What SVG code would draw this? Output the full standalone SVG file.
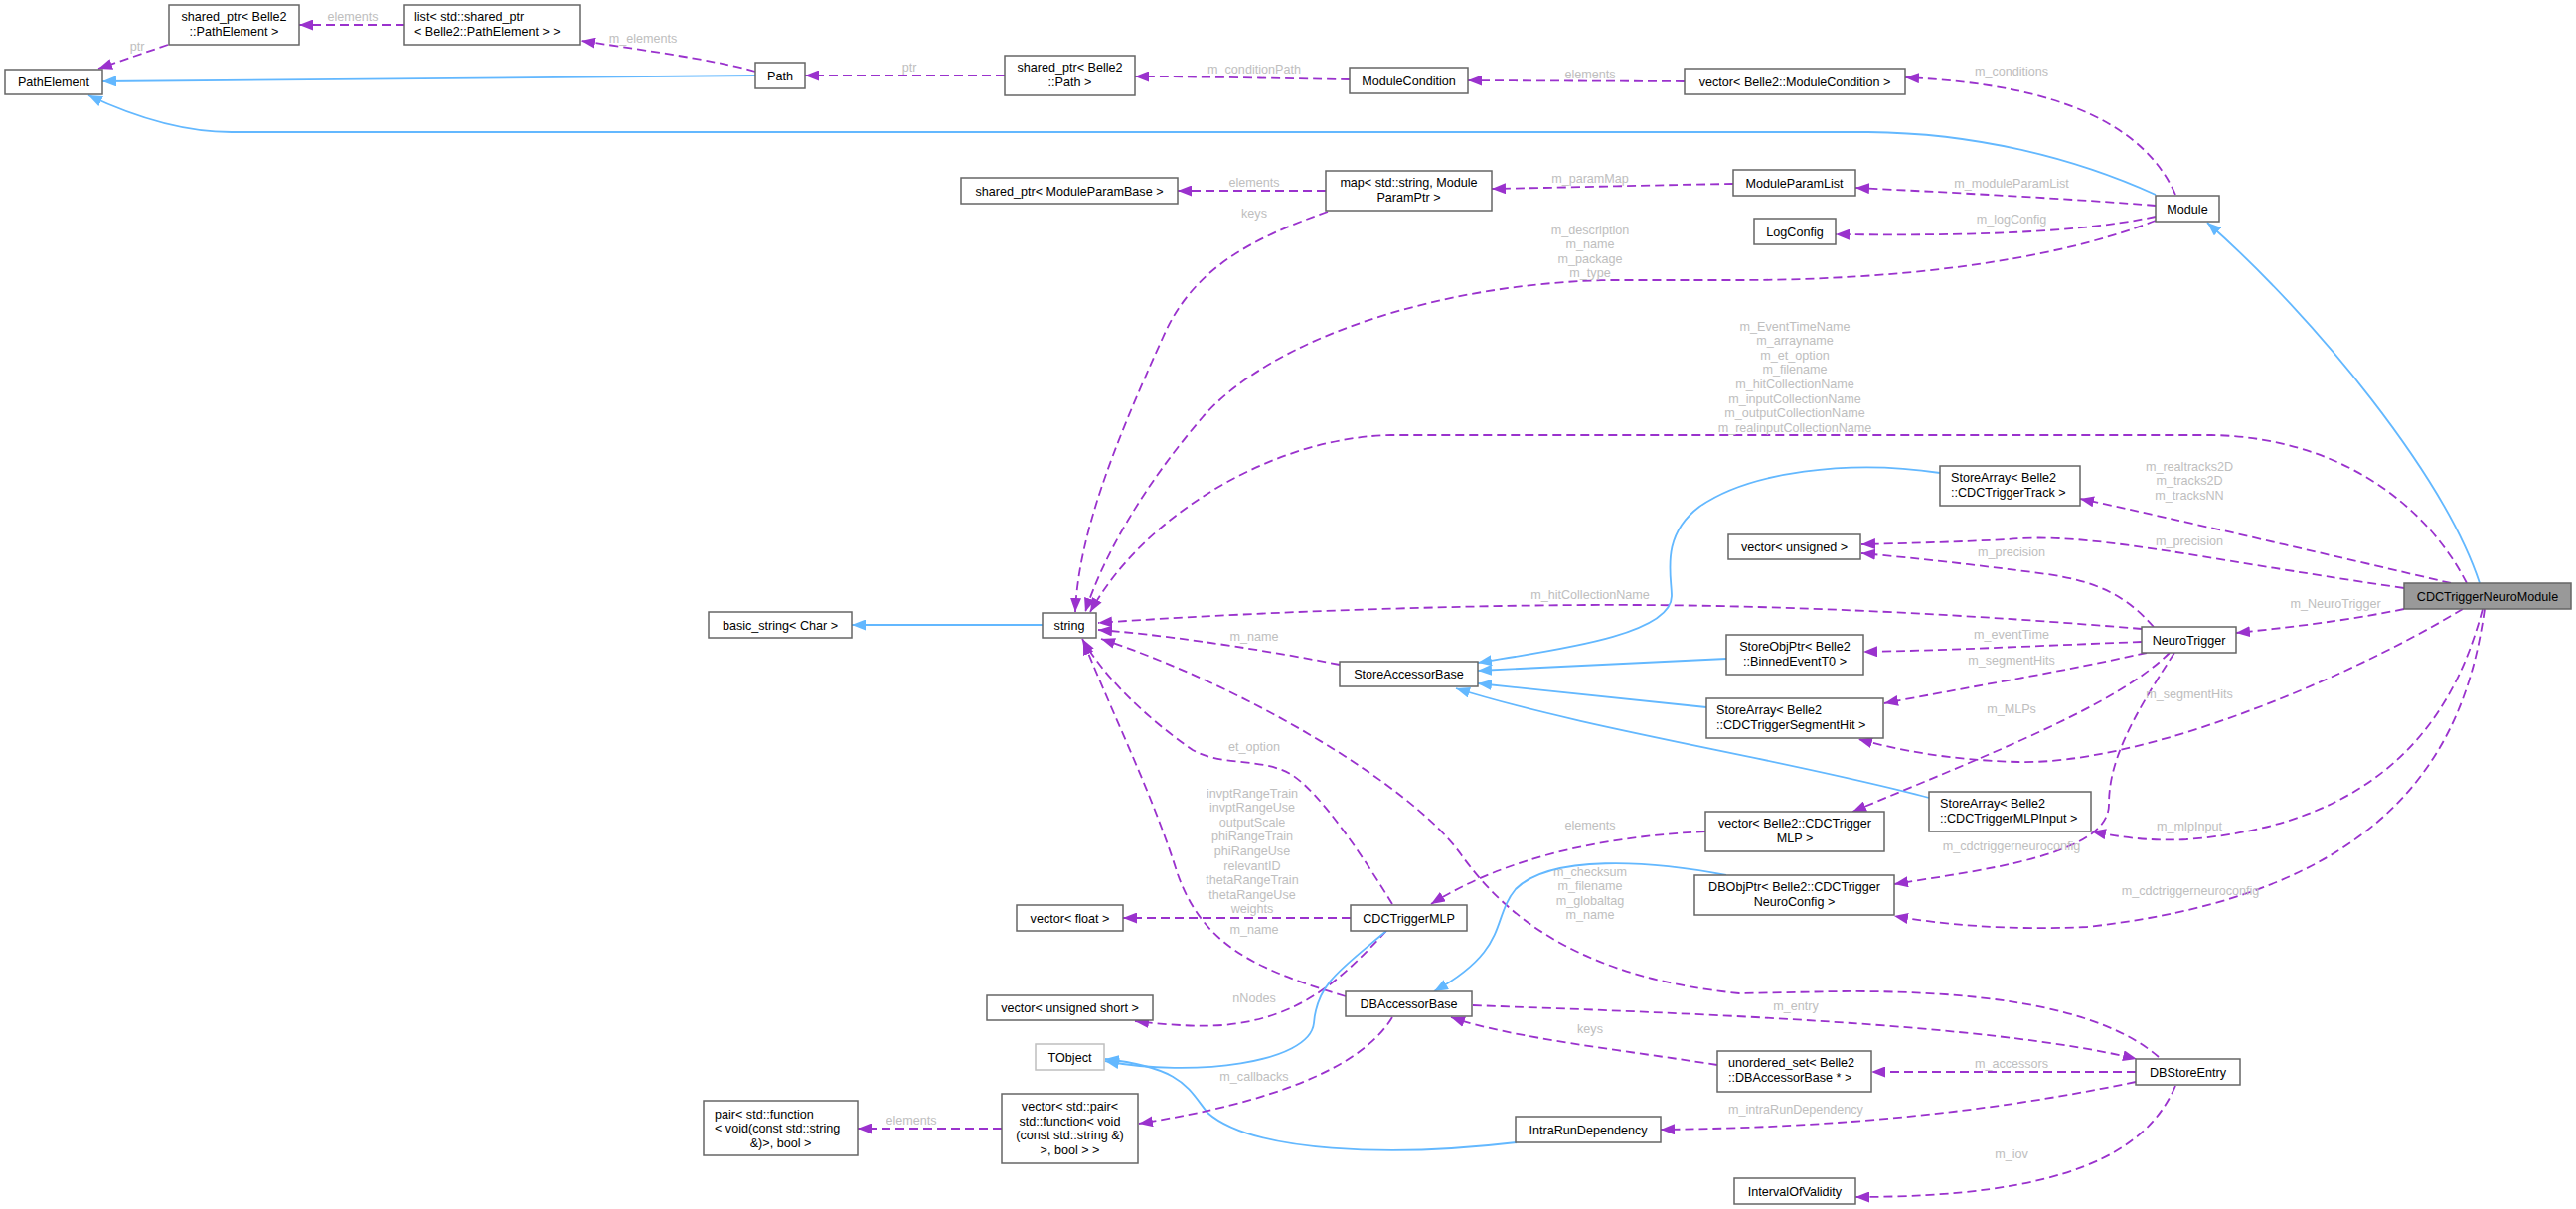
<svg xmlns="http://www.w3.org/2000/svg" width="2592" height="1217" viewBox="0 0 2592 1217">
<defs>
<marker id="ap" viewBox="0 0 14 11" refX="14" refY="5.5" markerWidth="14" markerHeight="11" markerUnits="userSpaceOnUse" orient="auto"><path d="M0,0 L14,5.5 L0,11 z" fill="#9a32cd"/></marker>
<marker id="ab" viewBox="0 0 14 11" refX="14" refY="5.5" markerWidth="14" markerHeight="11" markerUnits="userSpaceOnUse" orient="auto"><path d="M0,0 L14,5.5 L0,11 z" fill="#63b8ff"/></marker>
<style>
.n rect{fill:#fff;stroke:#666;stroke-width:1.5}
.n text{font-family:"Liberation Sans",Arial,sans-serif;font-size:12.6px;fill:#000}
.n .c{text-anchor:middle}
.main rect{fill:#999}
.ext rect{stroke:#bfbfbf}
.d{fill:none;stroke:#9a32cd;stroke-width:1.8;stroke-dasharray:9,5;marker-end:url(#ap)}
.b{fill:none;stroke:#63b8ff;stroke-width:1.8;marker-end:url(#ab)}
.l{font-family:"Liberation Sans",Arial,sans-serif;font-size:12.6px;fill:#bebebe;text-anchor:middle}
</style>
</defs>
<rect width="2592" height="1217" fill="#fff"/>
<g id="edges">
<path class="d" d="M169,45 L99,69"/><text class="l" x="138" y="51">ptr</text>
<path class="d" d="M407,25 L301,25"/><text class="l" x="355" y="21">elements</text>
<path class="d" d="M760,72 C720,60 630,48 585,41"/><text class="l" x="647" y="43">m_elements</text>
<path class="b" d="M760,76 L103,82"/>
<path class="d" d="M1011,76 L810,76"/><text class="l" x="915" y="72">ptr</text>
<path class="d" d="M1358,80 C1290,79 1200,77 1142,77"/><text class="l" x="1262" y="74">m_conditionPath</text>
<path class="d" d="M1695,82 L1477,81"/><text class="l" x="1600" y="79">elements</text>
<path class="d" d="M2189,196 C2160,130 2080,85 1917,78"/><text class="l" x="2024" y="76">m_conditions</text>
<path class="b" d="M2169,196 C2090,160 1990,134 1880,133 L233,133 C190,133 140,120 89,96"/>
<path class="d" d="M1334,192 L1185,192"/><text class="l" x="1262" y="188">elements</text>
<path class="d" d="M1744,185 C1680,186 1560,189 1501,190"/><text class="l" x="1600" y="184">m_paramMap</text>
<path class="d" d="M2169,207 C2100,201 1950,193 1867,189"/><text class="l" x="2024" y="189">m_moduleParamList</text>
<path class="d" d="M2169,218 C2080,237 1950,237 1847,236"/><text class="l" x="2024" y="225">m_logConfig</text>
<path class="d" d="M2169,222 C2060,265 1900,282 1750,282 L1620,282 C1450,285 1280,340 1210,420 C1150,490 1110,560 1092,616"/>
<text class="l" x="1600" y="235.5">m_description<tspan x="1600" dy="14.6">m_name</tspan><tspan x="1600" dy="14.6">m_package</tspan><tspan x="1600" dy="14.6">m_type</tspan></text>
<path class="d" d="M1336,213 C1260,240 1200,270 1170,340 C1120,450 1085,540 1082,616"/><text class="l" x="1262" y="219">keys</text>
<path class="b" d="M1049,629 L857,629"/>
<path class="b" d="M2495,587 C2460,480 2330,320 2221,224"/>
<path class="d" d="M2482,587 C2440,505 2350,440 2225,438 L1400,438 C1280,440 1150,520 1097,616"/>
<text class="l" x="1806" y="332.5">m_EventTimeName<tspan x="1806" dy="14.6">m_arrayname</tspan><tspan x="1806" dy="14.6">m_et_option</tspan><tspan x="1806" dy="14.6">m_filename</tspan><tspan x="1806" dy="14.6">m_hitCollectionName</tspan><tspan x="1806" dy="14.6">m_inputCollectionName</tspan><tspan x="1806" dy="14.6">m_outputCollectionName</tspan><tspan x="1806" dy="14.6">m_realinputCollectionName</tspan></text>
<path class="d" d="M2466,587 C2350,560 2200,525 2093,502"/>
<text class="l" x="2203" y="473.5">m_realtracks2D<tspan x="2203" dy="14.6">m_tracks2D</tspan><tspan x="2203" dy="14.6">m_tracksNN</tspan></text>
<path class="d" d="M2419,592 C2200,560 2100,535 2020,543 C1960,546 1910,547 1873,548"/><text class="l" x="2203" y="549">m_precision</text>
<path class="d" d="M2167,631 C2140,600 2110,585 2060,578 C2000,570 1930,562 1873,557"/><text class="l" x="2024" y="560">m_precision</text>
<path class="d" d="M2419,613 C2360,625 2300,632 2250,637"/><text class="l" x="2350" y="612">m_NeuroTrigger</text>
<path class="d" d="M2155,633 C2000,620 1800,608 1600,609 C1400,610 1200,620 1105,627"/><text class="l" x="1600" y="603">m_hitCollectionName</text>
<path class="d" d="M2155,646 C2050,650 1950,655 1875,656"/><text class="l" x="2024" y="643">m_eventTime</text>
<path class="d" d="M2160,657 C2080,675 1980,692 1896,708"/><text class="l" x="2024" y="669">m_segmentHits</text>
<path class="d" d="M2183,657 C2130,710 2000,760 1864,817"/><text class="l" x="2024" y="718">m_MLPs</text>
<path class="d" d="M2188,657 C2140,730 2122,770 2122,810 C2122,860 2000,875 1906,890"/><text class="l" x="2024" y="856">m_cdctriggerneuroconfig</text>
<path class="d" d="M2478,613 C2350,690 2150,770 2031,767 C1960,765 1910,755 1870,744"/><text class="l" x="2203" y="703">m_segmentHits</text>
<path class="d" d="M2498,613 C2470,720 2400,830 2200,845 C2160,847 2130,842 2105,837"/><text class="l" x="2203" y="836">m_mlpInput</text>
<path class="d" d="M2500,613 C2480,760 2400,900 2100,933 C2020,937 1950,930 1906,922"/><text class="l" x="2204" y="901">m_cdctriggerneuroconfig</text>
<path class="b" d="M1952,476 C1860,462 1760,475 1710,510 C1670,540 1682,580 1682,600 C1682,640 1560,655 1487,667"/>
<path class="b" d="M1737,663 L1487,675"/>
<path class="b" d="M1717,712 L1487,688"/>
<path class="b" d="M1941,803 C1800,765 1600,735 1465,693"/>
<path class="d" d="M1348,669 C1250,650 1160,638 1105,634"/><text class="l" x="1262" y="645">m_name</text>
<path class="d" d="M1401,910 C1370,860 1330,800 1300,780 C1270,762 1230,772 1200,755 C1150,720 1110,680 1089,643"/><text class="l" x="1262" y="756">et_option</text>
<path class="d" d="M1359,924 L1130,924"/>
<text class="l" x="1260" y="802.5">invptRangeTrain<tspan x="1260" dy="14.6">invptRangeUse</tspan><tspan x="1260" dy="14.6">outputScale</tspan><tspan x="1260" dy="14.6">phiRangeTrain</tspan><tspan x="1260" dy="14.6">phiRangeUse</tspan><tspan x="1260" dy="14.6">relevantID</tspan><tspan x="1260" dy="14.6">thetaRangeTrain</tspan><tspan x="1260" dy="14.6">thetaRangeUse</tspan><tspan x="1260" dy="14.6">weights</tspan></text>
<path class="d" d="M1354,1003 C1260,975 1210,950 1185,880 C1160,800 1120,720 1090,645"/><text class="l" x="1262" y="940">m_name</text>
<path class="d" d="M2172,1064 C2110,1010 1980,997 1850,998 L1750,1000 C1600,985 1520,930 1470,860 C1420,790 1250,690 1108,643"/>
<text class="l" x="1600" y="881.5">m_checksum<tspan x="1600" dy="14.6">m_filename</tspan><tspan x="1600" dy="14.6">m_globaltag</tspan><tspan x="1600" dy="14.6">m_name</tspan></text>
<path class="d" d="M1716,837 C1620,842 1520,860 1440,910"/><text class="l" x="1600" y="835">elements</text>
<path class="b" d="M1737,881 C1660,866 1560,860 1525,895 C1500,925 1520,955 1443,998"/>
<path class="d" d="M1395,937 C1350,985 1310,1025 1230,1032 C1200,1034 1170,1031 1142,1028"/><text class="l" x="1262" y="1009">nNodes</text>
<path class="b" d="M1395,937 C1350,975 1325,990 1322,1030 C1318,1070 1200,1085 1112,1068"/>
<path class="b" d="M1526,1150 C1400,1165 1260,1160 1215,1120 C1195,1095 1190,1075 1112,1066"/>
<path class="d" d="M1401,1024 C1370,1075 1280,1110 1146,1131"/><text class="l" x="1262" y="1088">m_callbacks</text>
<path class="d" d="M1008,1136 L863,1136"/><text class="l" x="917" y="1132">elements</text>
<path class="d" d="M1482,1012 C1700,1020 2000,1030 2150,1066"/><text class="l" x="1807" y="1017">m_entry</text>
<path class="d" d="M1728,1072 C1640,1058 1520,1045 1460,1024"/><text class="l" x="1600" y="1040">keys</text>
<path class="d" d="M2149,1079 L1883,1079"/><text class="l" x="2024" y="1075">m_accessors</text>
<path class="d" d="M2149,1089 C2000,1120 1850,1135 1671,1137"/><text class="l" x="1807" y="1121">m_intraRunDependency</text>
<path class="d" d="M2189,1093 C2160,1160 2080,1205 1867,1205"/><text class="l" x="2024" y="1166">m_iov</text>
</g>
<g id="node-PathElement" class="n"><rect x="5" y="70" width="98" height="25"/><text class="c" x="54" y="87">PathElement</text></g>
<g id="node-shared_ptr_PathElement" class="n"><rect x="170" y="5" width="131" height="40"/><text class="c" x="235.5" y="21">shared_ptr&lt; Belle2</text><text class="c" x="235.5" y="36">::PathElement &gt;</text></g>
<g id="node-list_shared_ptr" class="n"><rect x="407" y="5" width="177" height="40"/><text x="417" y="21">list&lt; std::shared_ptr</text><text x="417" y="36">&lt; Belle2::PathElement &gt; &gt;</text></g>
<g id="node-Path" class="n"><rect x="760" y="63" width="50" height="26"/><text class="c" x="785" y="80.5">Path</text></g>
<g id="node-shared_ptr_Path" class="n"><rect x="1011" y="56" width="131" height="40"/><text class="c" x="1076.5" y="72">shared_ptr&lt; Belle2</text><text class="c" x="1076.5" y="87">::Path &gt;</text></g>
<g id="node-ModuleCondition" class="n"><rect x="1358" y="68" width="119" height="26"/><text class="c" x="1417.5" y="85.5">ModuleCondition</text></g>
<g id="node-vector_ModuleCondition" class="n"><rect x="1695" y="69" width="222" height="26"/><text class="c" x="1806" y="86.5">vector&lt; Belle2::ModuleCondition &gt;</text></g>
<g id="node-shared_ptr_ModuleParamBase" class="n"><rect x="967" y="179" width="218" height="26"/><text class="c" x="1076" y="196.5">shared_ptr&lt; ModuleParamBase &gt;</text></g>
<g id="node-map" class="n"><rect x="1334" y="172" width="167" height="40"/><text class="c" x="1417.5" y="188">map&lt; std::string, Module</text><text class="c" x="1417.5" y="203">ParamPtr &gt;</text></g>
<g id="node-ModuleParamList" class="n"><rect x="1744" y="171" width="123" height="26"/><text class="c" x="1805.5" y="188.5">ModuleParamList</text></g>
<g id="node-LogConfig" class="n"><rect x="1765" y="220" width="82" height="26"/><text class="c" x="1806" y="237.5">LogConfig</text></g>
<g id="node-Module" class="n"><rect x="2169" y="197" width="64" height="26"/><text class="c" x="2201" y="214.5">Module</text></g>
<g id="node-string" class="n"><rect x="1049" y="617" width="54" height="25"/><text class="c" x="1076" y="634">string</text></g>
<g id="node-basic_string" class="n"><rect x="713" y="616" width="144" height="26"/><text class="c" x="785" y="633.5">basic_string&lt; Char &gt;</text></g>
<g id="node-StoreAccessorBase" class="n"><rect x="1348" y="666" width="139" height="25"/><text class="c" x="1417.5" y="683">StoreAccessorBase</text></g>
<g id="node-StoreArray_CDCTriggerTrack" class="n"><rect x="1952" y="469" width="141" height="40"/><text x="1963" y="485">StoreArray&lt; Belle2</text><text x="1963" y="500">::CDCTriggerTrack &gt;</text></g>
<g id="node-vector_unsigned" class="n"><rect x="1739" y="538" width="133" height="25"/><text class="c" x="1805.5" y="555">vector&lt; unsigned &gt;</text></g>
<g id="node-CDCTriggerNeuroModule" class="n main"><rect x="2419" y="587" width="168" height="26"/><text class="c" x="2503" y="604.5">CDCTriggerNeuroModule</text></g>
<g id="node-NeuroTrigger" class="n"><rect x="2155" y="631" width="95" height="26"/><text class="c" x="2202.5" y="648.5">NeuroTrigger</text></g>
<g id="node-StoreObjPtr_BinnedEventT0" class="n"><rect x="1737" y="639" width="138" height="40"/><text class="c" x="1806" y="655">StoreObjPtr&lt; Belle2</text><text class="c" x="1806" y="670">::BinnedEventT0 &gt;</text></g>
<g id="node-StoreArray_CDCTriggerSegmentHit" class="n"><rect x="1717" y="703" width="178" height="40"/><text x="1727" y="719">StoreArray&lt; Belle2</text><text x="1727" y="734">::CDCTriggerSegmentHit &gt;</text></g>
<g id="node-StoreArray_CDCTriggerMLPInput" class="n"><rect x="1941" y="797" width="163" height="40"/><text x="1952" y="813">StoreArray&lt; Belle2</text><text x="1952" y="828">::CDCTriggerMLPInput &gt;</text></g>
<g id="node-vector_CDCTriggerMLP" class="n"><rect x="1716" y="817" width="180" height="40"/><text class="c" x="1806" y="833">vector&lt; Belle2::CDCTrigger</text><text class="c" x="1806" y="848">MLP &gt;</text></g>
<g id="node-DBObjPtr" class="n"><rect x="1705" y="881" width="201" height="40"/><text class="c" x="1805.5" y="897">DBObjPtr&lt; Belle2::CDCTrigger</text><text class="c" x="1805.5" y="912">NeuroConfig &gt;</text></g>
<g id="node-vector_float" class="n"><rect x="1023" y="911" width="107" height="26"/><text class="c" x="1076.5" y="928.5">vector&lt; float &gt;</text></g>
<g id="node-CDCTriggerMLP" class="n"><rect x="1359" y="911" width="117" height="26"/><text class="c" x="1417.5" y="928.5">CDCTriggerMLP</text></g>
<g id="node-vector_unsigned_short" class="n"><rect x="993" y="1002" width="167" height="25"/><text class="c" x="1076.5" y="1019">vector&lt; unsigned short &gt;</text></g>
<g id="node-DBAccessorBase" class="n"><rect x="1354" y="998" width="127" height="25"/><text class="c" x="1417.5" y="1015">DBAccessorBase</text></g>
<g id="node-TObject" class="n ext"><rect x="1042" y="1051" width="69" height="26"/><text class="c" x="1076.5" y="1068.5">TObject</text></g>
<g id="node-vector_pair" class="n"><rect x="1008" y="1101" width="137" height="70"/><text class="c" x="1076.5" y="1117.5">vector&lt; std::pair&lt;</text><text class="c" x="1076.5" y="1132.5">std::function&lt; void</text><text class="c" x="1076.5" y="1147">(const std::string &amp;)</text><text class="c" x="1076.5" y="1161.5">&gt;, bool &gt; &gt;</text></g>
<g id="node-pair" class="n"><rect x="708" y="1108" width="155" height="55"/><text x="719" y="1125.5">pair&lt; std::function</text><text x="719" y="1140">&lt; void(const std::string</text><text class="c" x="785.5" y="1154.5">&amp;)&gt;, bool &gt;</text></g>
<g id="node-IntraRunDependency" class="n"><rect x="1525" y="1124" width="146" height="26"/><text class="c" x="1598" y="1141.5">IntraRunDependency</text></g>
<g id="node-DBStoreEntry" class="n"><rect x="2149" y="1066" width="105" height="26"/><text class="c" x="2201.5" y="1083.5">DBStoreEntry</text></g>
<g id="node-unordered_set" class="n"><rect x="1728" y="1058" width="155" height="41"/><text x="1739" y="1074">unordered_set&lt; Belle2</text><text x="1739" y="1089">::DBAccessorBase * &gt;</text></g>
<g id="node-IntervalOfValidity" class="n"><rect x="1745" y="1186" width="122" height="26"/><text class="c" x="1806" y="1203.5">IntervalOfValidity</text></g>
</svg>
